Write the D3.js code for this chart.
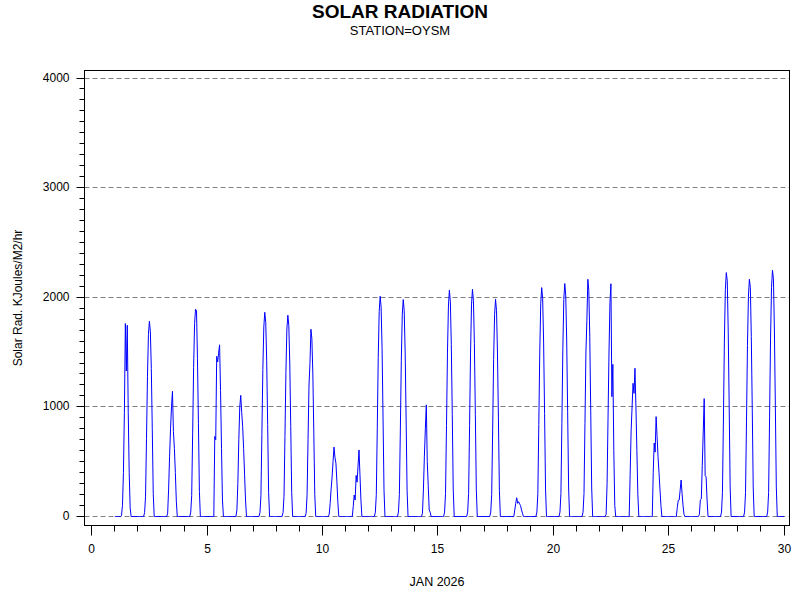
<!DOCTYPE html>
<html><head><meta charset="utf-8">
<script src="https://cdn.jsdelivr.net/npm/d3@7"></script>
<style>
body{margin:0;background:#fff}
svg{display:block}
text{font-family:"Liberation Sans",Arial,Helvetica,sans-serif;fill:#000}
</style>
</head><body>
<svg id="chart" width="800" height="600"></svg>
<script>
// ---- data ----
const title = "SOLAR RADIATION";
const subtitle = "STATION=OYSM";
const yLabel = "Solar Rad. KJoules/M2/hr";
const xLabel = "JAN 2026";
const xTicks = [0, 5, 10, 15, 20, 25, 30];
const yTicks = [0, 1000, 2000, 3000, 4000];
const days = [1,2,3,4,5,6,7,8,9,10,11,12,13,14,15,16,17,18,19,20,21,22,23,24,25,26,27,28,29];
const daylightHours = [7,8,9,10,11,12,13,14,15,16,17];
// hourly readings (hours 7..17) for each day; night readings are 0
const dailyReadings = [
  [10, 100, 400, 950, 1760, 1327, 1744, 950, 400, 80, 0],      // 1
  [35, 180, 710, 1280, 1660, 1781, 1690, 1350, 800, 210, 0],   // 2
  [30, 250, 550, 800, 1000, 1142, 774, 620, 400, 140, 0],      // 3
  [40, 190, 760, 1360, 1760, 1890, 1880, 1440, 850, 230, 0],   // 4
  [0, 730, 700, 1461, 1410, 1490, 1566, 1150, 620, 150, 0],    // 5
  [60, 300, 700, 1000, 1105, 950, 820, 620, 380, 150, 0],      // 6
  [35, 190, 750, 1340, 1730, 1863, 1770, 1420, 840, 220, 0],   // 7
  [35, 185, 730, 1320, 1710, 1836, 1740, 1400, 820, 220, 0],   // 8
  [30, 200, 700, 1200, 1393, 1708, 1620, 1300, 760, 200, 0],   // 9
  [20, 120, 250, 360, 500, 633, 540, 486, 320, 130, 0],        // 10
  [0, 90, 196, 150, 374, 313, 460, 607, 380, 150, 0],          // 11
  [40, 200, 800, 1450, 1870, 2009, 1910, 1530, 900, 240, 0],   // 12
  [40, 200, 790, 1420, 1840, 1979, 1880, 1500, 890, 240, 0],   // 13
  [0, 30, 250, 550, 800, 1018, 500, 280, 60, 40, 0],           // 14
  [40, 210, 830, 1490, 1920, 2064, 1960, 1570, 930, 250, 0],   // 15
  [40, 210, 830, 1490, 1930, 2073, 1970, 1580, 930, 250, 0],   // 16
  [40, 200, 790, 1430, 1840, 1982, 1880, 1500, 890, 240, 0],   // 17
  [0, 60, 120, 171, 120, 135, 115, 100, 60, 30, 0],            // 18
  [40, 210, 840, 1500, 1940, 2088, 1990, 1590, 940, 250, 0],   // 19
  [40, 210, 850, 1530, 1980, 2125, 2020, 1610, 960, 260, 0],   // 20
  [40, 210, 850, 1500, 1790, 2164, 2060, 1640, 970, 260, 0],   // 21
  [20, 300, 900, 1500, 1950, 2123, 1093, 1388, 600, 100, 0],   // 22
  [0, 380, 780, 1000, 1215, 1123, 1352, 1000, 600, 200, 0],    // 23
  [0, 400, 670, 587, 911, 730, 545, 400, 250, 100, 0],         // 24
  [0, 0, 80, 146, 150, 240, 333, 210, 100, 20, 0],             // 25
  [0, 20, 152, 160, 465, 770, 1075, 374, 360, 150, 0],         // 26
  [40, 220, 890, 1600, 2070, 2225, 2150, 1690, 1000, 270, 0],  // 27
  [40, 220, 870, 1560, 2010, 2164, 2090, 1640, 970, 260, 0],   // 28
  [40, 220, 900, 1620, 2090, 2247, 2170, 1710, 1010, 270, 0]   // 29
];

// ---- build time series ----
const series = [];
days.forEach((d, i) => {
  for (let h = 0; h < 24; h++) {
    const k = daylightHours.indexOf(h);
    series.push({t: d + h / 24, v: k >= 0 ? dailyReadings[i][k] : 0});
  }
});
series.push({t: days[days.length - 1] + 1, v: 0});

// ---- layout ----
const svg = d3.select("#chart");
const frame = {left: 84.5, right: 789.5, top: 70.5, bottom: 525.5};
const x = d3.scaleLinear().domain([0, 30]).range([91.7, 784]);
const y = d3.scaleLinear().domain([0, 4000]).range([516.5, 78]);
const snap = v => Math.round(v - 0.5) + 0.5;

svg.append("rect").attr("width", 800).attr("height", 600).attr("fill", "#fff");

// title
svg.append("text").attr("x", 400).attr("y", 18).attr("text-anchor", "middle")
  .style("font-size", "19px").style("font-weight", "bold").text(title);
svg.append("text").attr("x", 400).attr("y", 35).attr("text-anchor", "middle")
  .style("font-size", "13px").text(subtitle);

// grid lines
svg.append("g").selectAll("line").data(yTicks).join("line")
  .attr("x1", frame.left).attr("x2", frame.right)
  .attr("y1", d => snap(y(d))).attr("y2", d => snap(y(d)))
  .attr("stroke", "#808080").attr("stroke-width", 1).attr("stroke-dasharray", "5,3");

// data line
const line = d3.line().x(d => x(d.t)).y(d => y(d.v));
svg.append("path").datum(series).attr("d", line)
  .attr("fill", "none").attr("stroke", "#0000ff").attr("stroke-width", 1)
  .attr("stroke-linejoin", "miter");

// frame
svg.append("rect").attr("x", frame.left).attr("y", frame.top)
  .attr("width", frame.right - frame.left).attr("height", frame.bottom - frame.top)
  .attr("fill", "none").attr("stroke", "#000").attr("stroke-width", 1);

// y axis
const yMinor = [];
for (let v = 0; v <= 4000; v += 100) yMinor.push(v);
const yAxisMinor = svg.append("g").attr("transform", `translate(${frame.left},0)`)
  .call(d3.axisLeft(y).tickValues(yMinor).tickSize(5).tickFormat(""));
const yAxis = svg.append("g").attr("transform", `translate(${frame.left},0)`)
  .call(d3.axisLeft(y).tickValues(yTicks).tickSize(8).tickPadding(7).tickFormat(d3.format("d")));
[yAxisMinor, yAxis].forEach(g => {
  g.select(".domain").remove();
  g.selectAll(".tick").attr("transform", function(d) { return `translate(0,${snap(y(d))})`; });
  g.selectAll(".tick line").attr("stroke", "#000");
  g.selectAll(".tick text").style("font-size", "12px").attr("font-family", null);
});

// x axis
const xMinor = [];
for (let v = 0; v <= 30; v += 1) xMinor.push(v);
const xAxisMinor = svg.append("g").attr("transform", `translate(0,${frame.bottom})`)
  .call(d3.axisBottom(x).tickValues(xMinor).tickSize(6).tickFormat(""));
const xAxis = svg.append("g").attr("transform", `translate(0,${frame.bottom})`)
  .call(d3.axisBottom(x).tickValues(xTicks).tickSize(10).tickPadding(9).tickFormat(d3.format("d")));
[xAxisMinor, xAxis].forEach(g => {
  g.select(".domain").remove();
  g.selectAll(".tick").attr("transform", function(d) { return `translate(${snap(x(d))},0)`; });
  g.selectAll(".tick line").attr("stroke", "#000");
  g.selectAll(".tick text").style("font-size", "12px").attr("font-family", null);
});

// axis labels
svg.append("text").attr("transform", `translate(22,${(frame.top + frame.bottom) / 2}) rotate(-90)`)
  .attr("text-anchor", "middle").style("font-size", "12px").text(yLabel);
svg.append("text").attr("x", (frame.left + frame.right) / 2).attr("y", 586)
  .attr("text-anchor", "middle").style("font-size", "12.5px").text(xLabel);
</script>
</body></html>
